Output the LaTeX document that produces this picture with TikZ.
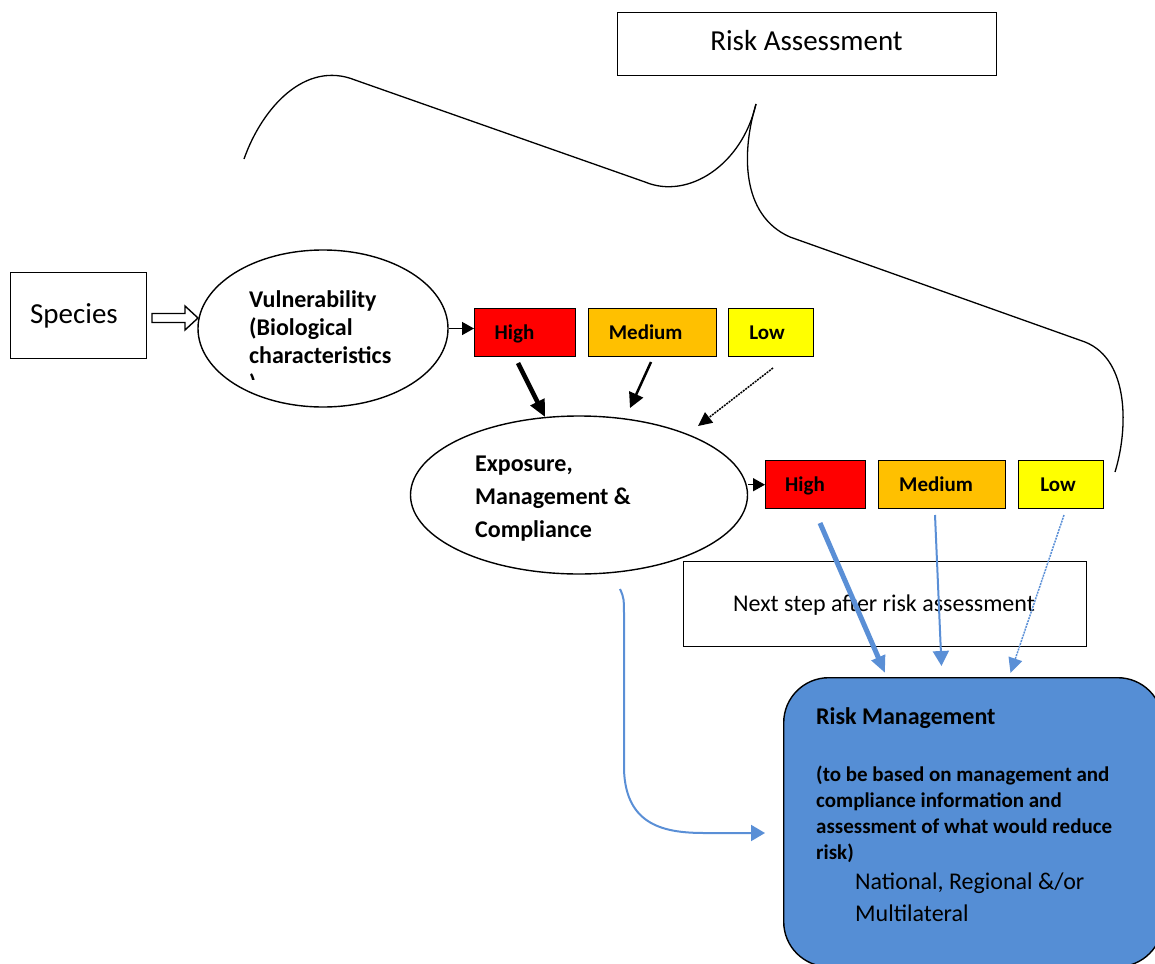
\documentclass[tikz,border=0pt]{standalone}
\usepackage{fontspec}
\setmainfont{Carlito}
\usetikzlibrary{arrows.meta,shapes.geometric}
\definecolor{rred}{HTML}{FF0000}
\definecolor{rorange}{HTML}{FFC000}
\definecolor{ryellow}{HTML}{FFFF00}
\definecolor{rmblue}{HTML}{558ED5}
\definecolor{rablue}{HTML}{5A8FD6}
\tikzset{
  box/.style={draw, line width=1.4pt, inner sep=0pt, anchor=north west},
  ell/.style={draw, ellipse, line width=1.4pt, inner sep=0pt},
  lbl/.style={inner sep=0pt, text depth=0pt},
  big/.style={font=\fontsize{29}{35}\selectfont, text height=18.7pt},
  mid/.style={font=\fontsize{24}{29}\selectfont, text height=15.5pt},
  midb/.style={font=\fontsize{24}{29}\bfseries\selectfont, text height=15.5pt},
  smb/.style={font=\fontsize{21}{26}\bfseries\selectfont, text height=13.6pt},
  tagb/.style={font=\fontsize{21}{25}\bfseries\selectfont, text height=13.6pt},
  brace/.style={line width=1.3pt},
  blk/.style={line width=1.5pt, -{Triangle[length=12pt,width=13pt]}},
}
\begin{document}
\begin{tikzpicture}[x=1pt,y=-1pt]
\useasboundingbox (0,0) rectangle (1155,963);

% Risk Assessment
\node[box, minimum width=379pt, minimum height=63pt] (ra) at (617,12) {};
\node[lbl, big] (ratext) at (806.5,41) {Risk Assessment};

% braces
\draw[brace] (244,159) .. controls (262,108) and (305,60) .. (355,80)
  -- (645,182) .. controls (688,200) and (742,165) .. (756,104);
\draw[brace] (756,104) .. controls (742,150) and (740,215) .. (790,237)
  -- (1085,342) .. controls (1130,360) and (1128,430) .. (1115,472);

% Species
\node[box, minimum width=136pt, minimum height=86pt] (sp) at (10,272) {};
\node[lbl, big] (sptext) at (74,314) {Species};
\draw[line width=1.4pt] (152,313.5) -- (185,313.5) -- (185,306) -- (198,318)
  -- (185,330) -- (185,322.5) -- (152,322.5) -- cycle;

% Vulnerability
\node[ell, minimum width=250pt, minimum height=157pt] (vul) at (323,328.5) {};
\node[lbl, midb, anchor=west] (v1) at (249,300) {Vulnerability};
\node[lbl, midb, anchor=west] (v2) at (249,328) {(Biological};
\node[lbl, midb, anchor=west] (v3) at (249,356) {characteristics};
\begin{scope}
  \clip (240,371) rectangle (270,379);
  \node[lbl, midb, anchor=west] (v4) at (249,384) {)};
\end{scope}

% first row of levels
\node[box, fill=rred, minimum width=101pt, minimum height=48pt] (h1) at (474,308) {};
\node[box, fill=rorange, minimum width=128pt, minimum height=48pt] (m1) at (588,308) {};
\node[box, fill=ryellow, minimum width=85pt, minimum height=48pt] (l1) at (728,308) {};
\node[lbl, tagb] (h1t) at (514.5,333) {High};
\node[lbl, tagb] (m1t) at (645.7,333) {Medium};
\node[lbl, tagb] (l1t) at (767,333) {Low};
\draw[blk] (vul.east) -- (vul.east -| h1.west);

% Exposure
\node[ell, minimum width=337pt, minimum height=158pt] (exp) at (579,495) {};
\node[lbl, midb, anchor=west] (e1) at (475,464) {Exposure,};
\node[lbl, midb, anchor=west] (e2) at (475,497) {Management \&};
\node[lbl, midb, anchor=west] (e3) at (475,530) {Compliance};

\coordinate (a1s) at (518,363); \coordinate (a1e) at (545,417);
\coordinate (a2s) at (651,362); \coordinate (a2e) at (630,408);
\coordinate (a3s) at (773,368); \coordinate (a3e) at (698,426);
\draw[line width=4.5pt, -{Triangle[length=17pt,width=15pt]}] (a1s) -- (a1e);
\draw[line width=2.5pt, -{Triangle[length=15pt,width=15pt]}] (a2s) -- (a2e);
\draw[line width=1.5pt, dash pattern=on 2pt off 1pt, -{Triangle[length=14pt,width=13pt]}] (a3s) -- (a3e);

% second row of levels
\node[box, fill=rred, minimum width=100pt, minimum height=48pt] (h2) at (765,460) {};
\node[box, fill=rorange, minimum width=127pt, minimum height=48pt] (m2) at (878,460) {};
\node[box, fill=ryellow, minimum width=85pt, minimum height=48pt] (l2) at (1018,460) {};
\node[lbl, tagb] (h2t) at (805,485) {High};
\node[lbl, tagb] (m2t) at (936,485) {Medium};
\node[lbl, tagb] (l2t) at (1058,485) {Low};
\draw[blk] (h2.west -| exp.east) -- (h2.west);

% Next step
\node[box, minimum width=403pt, minimum height=85pt] (ns) at (683,561) {};
\node[lbl, mid] (nst) at (884,604) {Next step after risk assessment};

% Risk Management
\node[box, fill=rmblue, rounded corners=45pt, minimum width=379pt, minimum height=289pt] (rm) at (783,677) {};
\node[lbl, midb, anchor=west] (r1) at (816,717) {Risk Management};
\node[lbl, smb, anchor=west] (r2) at (816,775) {(to be based on management and};
\node[lbl, smb, anchor=west] (r3) at (816,801) {compliance information and};
\node[lbl, smb, anchor=west] (r4) at (816,827) {assessment of what would reduce};
\node[lbl, smb, anchor=west] (r5) at (816,853) {risk)};
\node[lbl, mid, anchor=west] (r6) at (855,882) {National, Regional \&/or};
\node[lbl, mid, anchor=west] (r7) at (855,914) {Multilateral};

% blue arrows
\coordinate (b1s) at (820,523); \coordinate (b1e) at (885,673);
\coordinate (b2s) at (935,515); \coordinate (b2e) at (941.5,666);
\coordinate (b3s) at (1064,515); \coordinate (b3e) at (1010.5,673);
\coordinate (c1s) at (620,589); \coordinate (c1e) at (765,833);
\draw[rablue, line width=5pt, -{Triangle[length=17pt,width=14pt]}] (b1s) -- (b1e);
\draw[rablue, line width=2pt, -{Triangle[length=15pt,width=16pt]}] (b2s) -- (b2e);
\draw[rablue, line width=1.5pt, dash pattern=on 2pt off 1pt, -{Triangle[length=15pt,width=14pt]}] (b3s) -- (b3e);
\draw[rablue, line width=2pt, -{Triangle[length=14pt,width=16pt]}] (c1s)
  .. controls (624,598) .. (624,620) -- (624,770)
  .. controls (626,826) and (665,833) .. (705,833) -- (c1e);
\end{tikzpicture}
\end{document}
